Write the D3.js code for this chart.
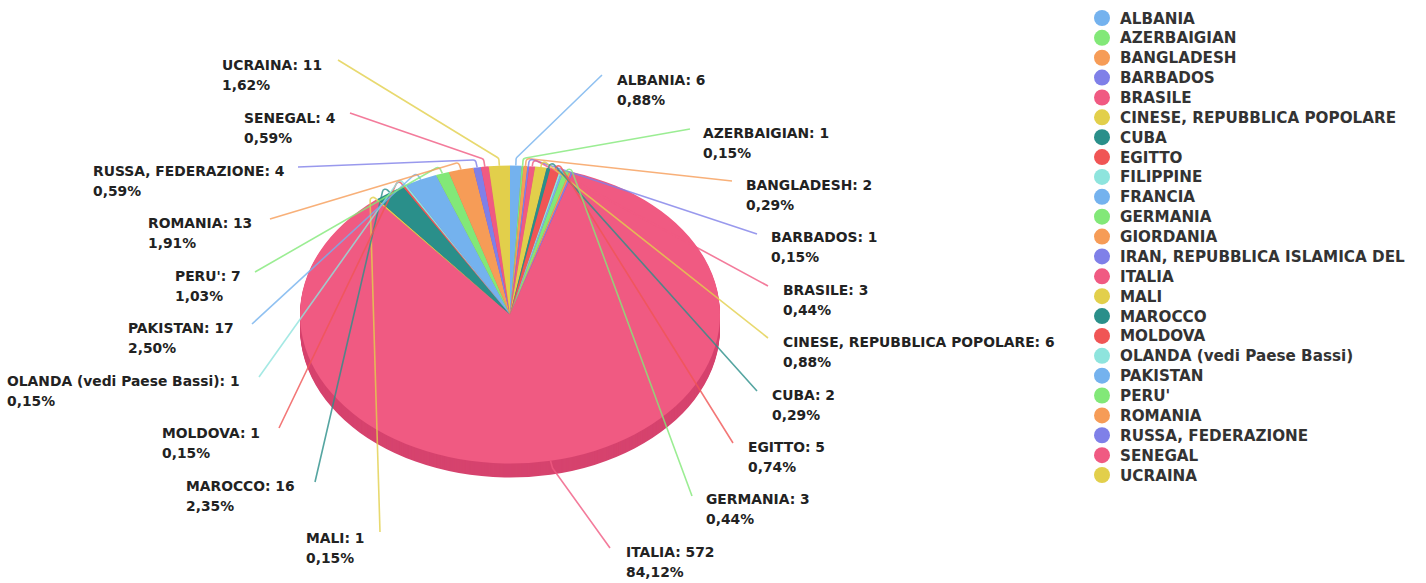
<!DOCTYPE html>
<html>
<head>
<meta charset="utf-8">
<script src="https://cdn.jsdelivr.net/npm/d3@7"></script>
<style>
  html, body { margin: 0; background: #fff; }
  text { font-family: "DejaVu Sans", sans-serif; font-weight: 700; }
</style>
</head>
<body>
<div id="chart"></div>
<script>
// valori
const categories = ['ALBANIA', 'AZERBAIGIAN', 'BANGLADESH', 'BARBADOS', 'BRASILE', 'CINESE, REPUBBLICA POPOLARE',
  'CUBA', 'EGITTO', 'FILIPPINE', 'FRANCIA', 'GERMANIA', 'GIORDANIA', 'IRAN, REPUBBLICA ISLAMICA DEL', 'ITALIA',
  'MALI', 'MAROCCO', 'MOLDOVA', 'OLANDA (vedi Paese Bassi)', 'PAKISTAN', "PERU'", 'ROMANIA', 'RUSSA, FEDERAZIONE',
  'SENEGAL', 'UCRAINA'];
const counts = [6, 1, 2, 1, 3, 6, 2, 5, 1, 1, 3, 1, 1, 572, 1, 16, 1, 1, 17, 7, 13, 4, 4, 11];
const palette = ['#74b2ee', '#82e878', '#f69c57', '#7f80e8', '#f05a82', '#e2cf4b', '#2a8f8a', '#f05555', '#8ee4dd'];
const hiddenLabels = ['FILIPPINE', 'FRANCIA', 'GIORDANIA', 'IRAN, REPUBBLICA ISLAMICA DEL'];

// dove stanno le etichette: [x testo, y prima riga, x fine linea, y fine linea]
const labelPlaces = {
  'ALBANIA': [617, 80, 602, 75],
  'AZERBAIGIAN': [703, 133, 690, 129],
  'BANGLADESH': [746, 185, 732, 181],
  'BARBADOS': [771, 237, 757, 234],
  'BRASILE': [783, 290, 768, 286],
  'CINESE, REPUBBLICA POPOLARE': [783, 342, 768, 338],
  'CUBA': [772, 395, 757, 391],
  'EGITTO': [748, 447, 733, 443],
  'GERMANIA': [706, 499, 692, 496],
  'ITALIA': [626, 552, 610, 548],
  'MALI': [306, 538, 380, 532],
  'MAROCCO': [186, 486, 315, 482],
  'MOLDOVA': [162, 433, 279, 428],
  'OLANDA (vedi Paese Bassi)': [7, 381, 259, 377],
  'PAKISTAN': [128, 328, 252, 324],
  "PERU'": [175, 276, 255, 272],
  'ROMANIA': [148, 223, 270, 219],
  'RUSSA, FEDERAZIONE': [93, 171, 298, 167],
  'SENEGAL': [244, 118, 350, 113],
  'UCRAINA': [222, 65, 338, 60]
};

const width = 1426, height = 583;
const cx = 510, cy = 314.5, rx = 210, ry = 149, depth = 14;

const svg = d3.select('#chart').append('svg')
  .attr('width', width)
  .attr('height', height)
  .style('display', 'block');

const color = d3.scaleOrdinal().domain(categories).range(palette);
const total = d3.sum(counts);
const rows = categories.map((name, i) => ({ name, count: counts[i] }));

const slices = d3.pie().sort(null).value(d => d.count)(rows);
const arc = d3.arc().innerRadius(0).outerRadius(rx);

// spessore: copie scure della torta, poi la faccia sopra
d3.range(depth, 0, -1).forEach(offset => {
  svg.append('g')
    .attr('transform', `translate(${cx},${cy + offset}) scale(1,${ry / rx})`)
    .selectAll('path')
    .data(slices)
    .join('path')
    .attr('d', arc)
    .attr('fill', d => d3.interpolateRgb(color(d.data.name), '#b02050')(0.4));
});

svg.append('g')
  .attr('transform', `translate(${cx},${cy}) scale(1,${ry / rx})`)
  .selectAll('path')
  .data(slices)
  .join('path')
  .attr('d', arc)
  .attr('fill', d => color(d.data.name));

const rimPoint = (d, k) => {
  const a = (d.startAngle + d.endAngle) / 2;
  return [cx + rx * k * Math.sin(a), cy - ry * k * Math.cos(a)];
};

const labelled = slices.filter(d => !hiddenLabels.includes(d.data.name));

svg.append('g')
  .selectAll('path')
  .data(labelled)
  .join('path')
  .attr('fill', 'none')
  .attr('stroke', d => color(d.data.name))
  .attr('stroke-width', 1.6)
  .attr('stroke-opacity', 0.8)
  .attr('d', d => {
    const place = labelPlaces[d.data.name];
    const start = rimPoint(d, 1);
    const elbow = rimPoint(d, 1.05);
    const p = d3.path();
    p.moveTo(start[0], start[1]);
    p.arcTo(elbow[0], elbow[1], place[2], place[3], 3);
    p.lineTo(place[2], place[3]);
    return p.toString();
  });

const pct = d3.format('.2f');
const labels = svg.append('g')
  .selectAll('text')
  .data(labelled)
  .join('text')
  .attr('x', d => labelPlaces[d.data.name][0])
  .attr('y', d => labelPlaces[d.data.name][1] + 5)
  .attr('fill', '#222')
  .style('font-size', '13.85px');

labels.append('tspan').text(d => `${d.data.name}: ${d.data.count}`);
labels.append('tspan')
  .attr('x', d => labelPlaces[d.data.name][0])
  .attr('dy', 20)
  .text(d => pct(d.data.count / total * 100).replace('.', ',') + '%');

// legenda
const legendY = d3.scalePoint().domain(categories).range([18, 475]);
const legend = svg.append('g')
  .selectAll('g')
  .data(categories)
  .join('g')
  .attr('transform', d => `translate(1102,${legendY(d)})`);

legend.append('circle')
  .attr('r', 8)
  .attr('fill', d => color(d));

legend.append('text')
  .attr('x', 18)
  .attr('y', 5.5)
  .attr('fill', '#333')
  .style('font-size', '15.2px')
  .text(d => d);
</script>
</body>
</html>
